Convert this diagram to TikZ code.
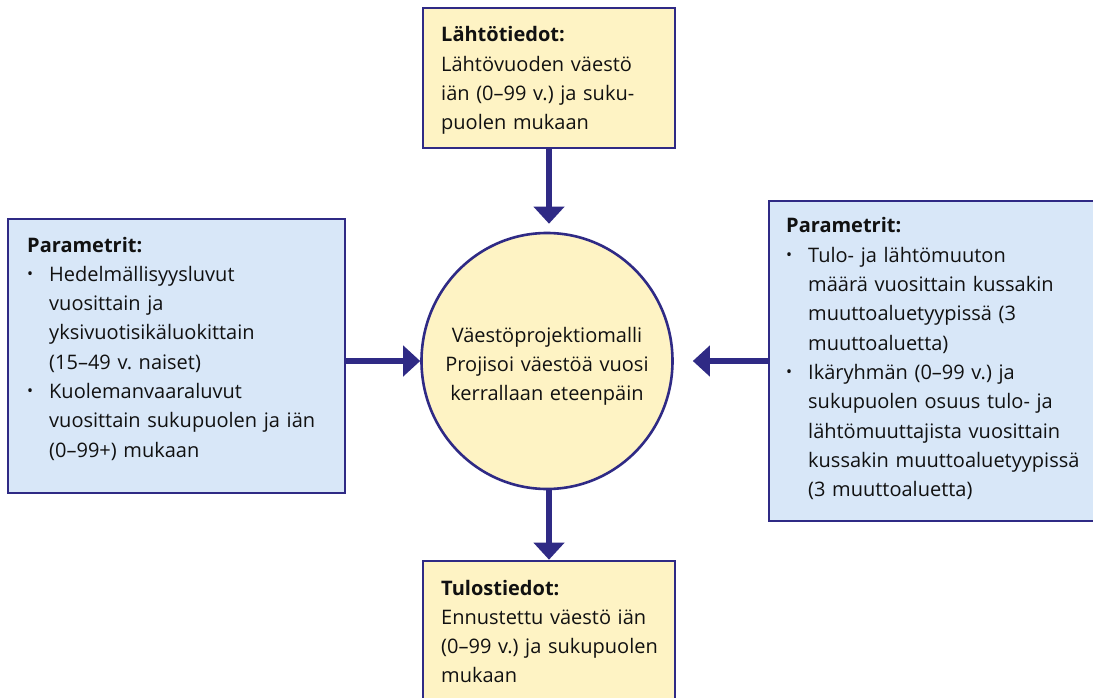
\documentclass[tikz,border=0pt]{standalone}
\usepackage{fontspec}
\setmainfont{Open Sans}
\frenchspacing
\usetikzlibrary{arrows.meta,shapes.geometric}
\definecolor{ink}{HTML}{2F2A85}
\definecolor{yel}{HTML}{FEF3C4}
\definecolor{blu}{HTML}{D8E7F8}
\definecolor{txt}{HTML}{111111}
\tikzset{
  box/.style={draw=ink, line width=2.6pt, inner sep=0pt, rectangle},
  ybox/.style={box, fill=yel},
  bbox/.style={box, fill=blu},
  lbl/.style={anchor=base west, inner sep=0pt, text width=#1, align=left,
    font=\fontsize{20}{29.3}\selectfont, text=txt},
  clbl/.style={anchor=base, inner sep=0pt, text width=#1, align=center,
    font=\fontsize{20}{29.3}\selectfont, text=txt},
  flow/.style={draw=ink, line width=6pt, -{Triangle[width=30pt,length=17pt]}},
}
\newcommand\itm[1]{\makebox[22pt][l]{\raisebox{2pt}{\fontsize{16}{16}\selectfont •}}#1}
\newcommand\cnt{\hspace*{22pt}}
\begin{document}
\begin{tikzpicture}[x=1pt,y=-1pt]
\path[use as bounding box, clip] (0,0) rectangle (1093,698);
\fill[white] (0,0) rectangle (1093,698);
% boxes
\node[ybox, minimum width=252pt, minimum height=140pt] (top) at (549,78) {};
\node[bbox, minimum width=337pt, minimum height=274pt] (left) at (176.5,356) {};
\node[bbox, minimum width=331pt, minimum height=320pt] (right) at (934.5,361) {};
\node[ybox, minimum width=252pt, minimum height=149pt] (bot) at (549,635.5) {};
\node[ellipse, draw=ink, line width=2.6pt, fill=yel, minimum width=251pt, minimum height=256pt, inner sep=0pt] (mid) at (547,361) {};
% texts
\node[lbl=230pt] (toptxt) at (441,42) {\textbf{Lähtötiedot:}\\Lähtövuoden väestö\\iän (0–99 v.) ja suku-\\puolen mukaan};
\node[lbl=310pt] (lefttxt) at (27,252) {\textbf{Parametrit:}\\
\itm{Hedelmällisyysluvut}\\
\cnt vuosittain ja\\
\cnt yksivuotisikäluokittain\\
\cnt (15–49 v. naiset)\\
\itm{Kuolemanvaaraluvut}\\
\cnt vuosittain sukupuolen ja iän\\
\cnt (0–99+) mukaan};
\node[lbl=300pt] (righttxt) at (786,233) {\textbf{Parametrit:}\\
\itm{Tulo- ja lähtömuuton}\\
\cnt määrä vuosittain kussakin\\
\cnt muuttoaluetyypissä (3\\
\cnt muuttoaluetta)\\
\itm{Ikäryhmän (0–99 v.) ja}\\
\cnt sukupuolen osuus tulo- ja\\
\cnt lähtömuuttajista vuosittain\\
\cnt kussakin muuttoaluetyypissä\\
\cnt (3 muuttoaluetta)};
\node[lbl=230pt] (bottxt) at (441,595) {\textbf{Tulostiedot:}\\Ennustettu väestö iän\\(0–99 v.) ja sukupuolen\\mukaan};
\node[clbl=240pt] (midtxt) at (547,342) {Väestöprojektiomalli\\Projisoi väestöä vuosi\\kerrallaan eteenpäin};
% arrows
\draw[flow, shorten >=8pt] (top.south) -- (top.south |- mid.north);
\draw[flow] (bot.north |- mid.south) -- (bot.north);
\draw[flow] (left.east |- mid.west) -- (mid.west);
\draw[flow, shorten >=19pt] (right.west |- mid.east) -- (mid.east);
\end{tikzpicture}
\end{document}
